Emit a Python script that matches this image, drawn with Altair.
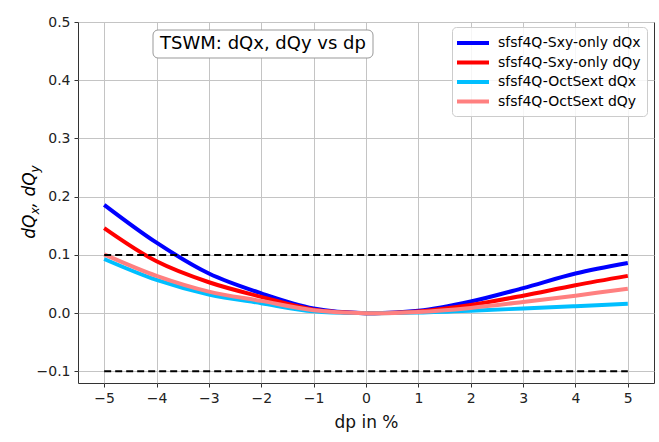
import altair as alt
import pandas as pd

# Momentum offset in percent
dp = [-5, -4, -3, -2, -1, 0, 1, 2, 3, 4, 5]

# Tune shifts for the two lattice variants
sxy_dqx = [0.186, 0.121, 0.068, 0.034, 0.008, 0.0, 0.004, 0.020, 0.043, 0.068, 0.086]
sxy_dqy = [0.146, 0.089, 0.053, 0.028, 0.006, 0.0, 0.003, 0.014, 0.030, 0.048, 0.064]
oct_dqx = [0.093, 0.057, 0.032, 0.017, 0.003, 0.0, 0.001, 0.004, 0.008, 0.012, 0.016]
oct_dqy = [0.101, 0.064, 0.037, 0.021, 0.005, 0.0, 0.002, 0.009, 0.019, 0.030, 0.042]

series_names = [
    "sfsf4Q-Sxy-only dQx",
    "sfsf4Q-Sxy-only dQy",
    "sfsf4Q-OctSext dQx",
    "sfsf4Q-OctSext dQy",
]
series_colors = ["#0000ff", "#ff0000", "#00bfff", "#ff8080"]

# Tolerance band limits
band_levels = [-0.1, 0.1]
band_x = [-5, 5]

FONT = "DejaVu Sans"

rows = []
for name, vals in zip(series_names, [sxy_dqx, sxy_dqy, oct_dqx, oct_dqy]):
    for x, v in zip(dp, vals):
        rows.append({"dp": x, "dq": v, "series": name})
lines_df = pd.DataFrame(rows)

band_df = pd.DataFrame(
    {"level": band_levels, "x0": [band_x[0]] * 2, "x1": [band_x[1]] * 2}
)

x_scale = alt.Scale(domain=[-5.5, 5.5], nice=False, zero=False)
y_scale = alt.Scale(domain=[-0.12, 0.5], nice=False, zero=False)

lines = (
    alt.Chart(lines_df)
    .mark_line(strokeWidth=4, interpolate="catmull-rom", strokeCap="butt")
    .encode(
        x=alt.X(
            "dp:Q",
            scale=x_scale,
            title="dp in %",
            axis=alt.Axis(
                values=dp,
                labelExpr="replace(format(datum.value, 'd'), '-', '\u2212')",
            ),
        ),
        y=alt.Y(
            "dq:Q",
            scale=y_scale,
            title=None,
            axis=alt.Axis(
                values=[-0.1, 0.0, 0.1, 0.2, 0.3, 0.4, 0.5],
                labelExpr="replace(format(datum.value, '.1f'), '-', '\u2212')",
            ),
        ),
        color=alt.Color(
            "series:N",
            scale=alt.Scale(domain=series_names, range=series_colors),
            sort=series_names,
            legend=alt.Legend(
                title=None,
                orient="none",
                legendX=374,
                legendY=5,
                symbolType="M-2,0H2",
                symbolSize=256,
                symbolStrokeWidth=4,
                symbolOffset=5,
                labelOffset=15,
                labelFontSize=14,
                labelFont=FONT,
                labelColor="#000000",
                rowPadding=1.5,
                padding=6,
                fillColor="rgba(255,255,255,0.85)",
                strokeColor="#cccccc",
                cornerRadius=4,
            ),
        ),
    )
)

band = (
    alt.Chart(band_df)
    .mark_rule(color="black", strokeWidth=2, strokeDash=[7, 4])
    .encode(
        x=alt.X("x0:Q", scale=x_scale),
        x2="x1:Q",
        y=alt.Y("level:Q", scale=y_scale),
    )
)

# Boxed annotation inside the plot
note_box = (
    alt.Chart(pd.DataFrame({"k": [0]}))
    .mark_rect(fill="white", stroke="#999999", strokeWidth=1, cornerRadius=5)
    .encode(x=alt.value(75), x2=alt.value(295), y=alt.value(8), y2=alt.value(36))
)
note_text = (
    alt.Chart(pd.DataFrame({"t": ["TSWM: dQx, dQy vs dp"]}))
    .mark_text(font=FONT, fontSize=18, color="black", align="center", baseline="middle")
    .encode(x=alt.value(185), y=alt.value(22), text="t:N")
)

# Rotated y-axis title built from pieces so the subscripts sit lower
F, S = 17, 12
w_dq = (0.635 + 0.787) * F
w_sub = 0.592 * S
w_mid = (0.318 + 0.318 + 0.635 + 0.787) * F
total = 2 * w_dq + 2 * w_sub + (w_mid - w_dq)
y0 = 180 + total / 2
pieces = [
    ("dQ", F, -43, y0),
    ("x", S, -39, y0 - w_dq),
    (", dQ", F, -43, y0 - w_dq - w_sub),
    ("y", S, -39, y0 - w_dq - w_sub - w_mid),
]
ytitle_layers = []
for txt, size, px, py in pieces:
    ytitle_layers.append(
        alt.Chart(pd.DataFrame({"t": [txt]}))
        .mark_text(
            font=FONT,
            fontSize=size,
            fontStyle="italic",
            color="black",
            angle=270,
            align="left",
            baseline="alphabetic",
        )
        .encode(x=alt.value(px), y=alt.value(py), text="t:N")
    )

chart = (
    alt.layer(lines, band, note_box, note_text, *ytitle_layers)
    .properties(
        width=576,
        height=361,
        autosize=alt.AutoSizeParams(type="none"),
        padding={"left": 78, "top": 22, "right": 5, "bottom": 59},
        background="white",
    )
    .configure_view(stroke="#333333", strokeWidth=1)
    .configure_axis(
        domain=False,
        grid=True,
        gridColor="#c4c4c4",
        gridWidth=1,
        tickColor="#333333",
        tickSize=4,
        labelFont=FONT,
        labelFontSize=14,
        labelColor="#222222",
        labelPadding=4,
        titleFont=FONT,
        titleFontSize=17,
        titleFontWeight="normal",
        titleColor="#111111",
        titlePadding=9,
    )
)

chart.save("out.html", embed_options={"renderer": "svg", "actions": False})
